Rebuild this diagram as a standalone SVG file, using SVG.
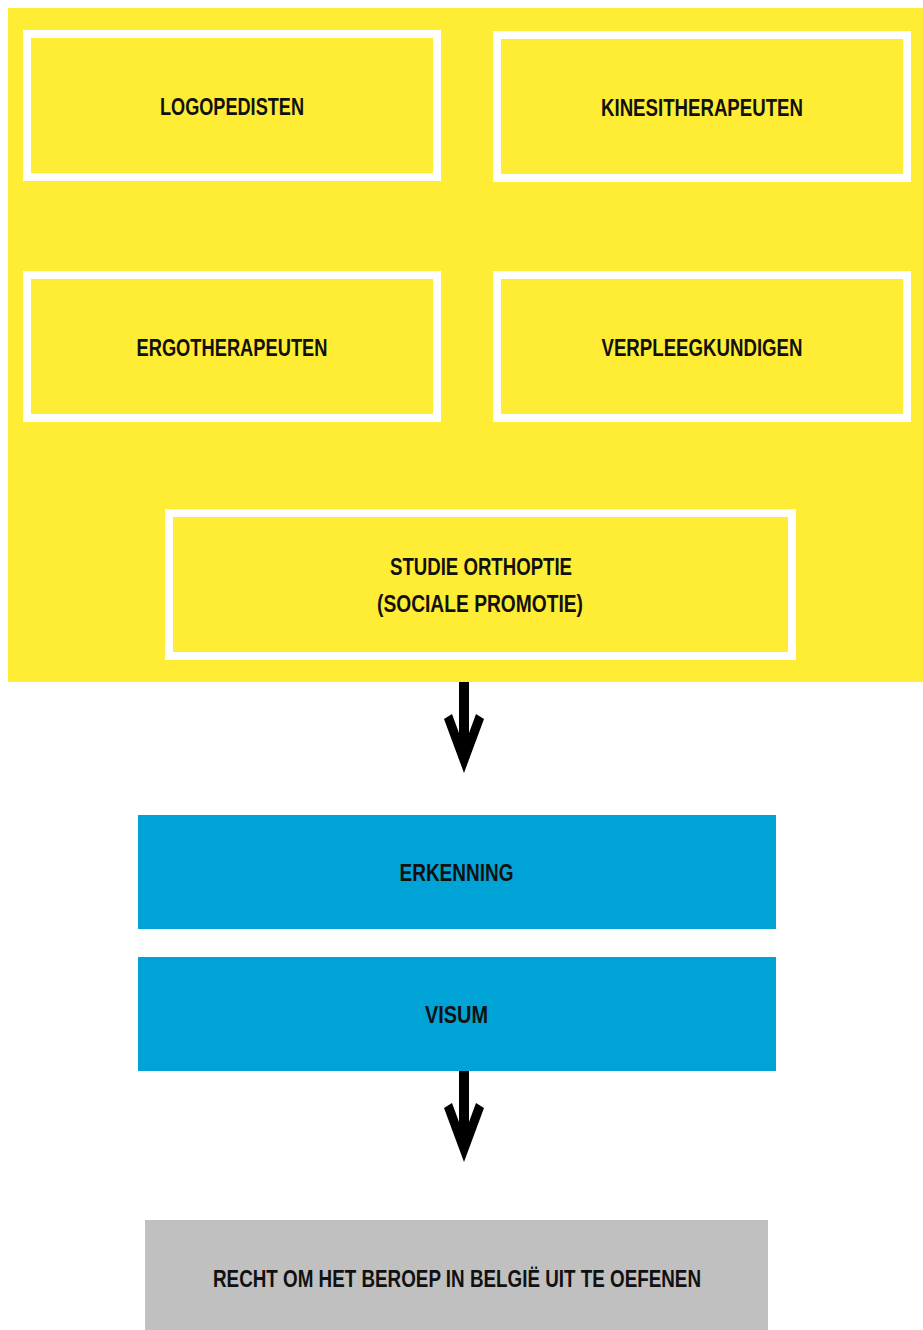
<svg xmlns="http://www.w3.org/2000/svg" width="923" height="1330" viewBox="0 0 923 1330">
<style>
.bg{fill:#ffffff}
.panel{fill:#ffed35}
.ybox{fill:#ffed35;stroke:#ffffff;stroke-width:8}
.bbox{fill:#00a3d6}
.gbox{fill:#c0c0c0}
.lbl{font-family:"Liberation Sans",Arial,sans-serif;font-weight:bold;font-size:23px;fill:#111111;text-anchor:middle}
.arrow{fill:#000000}
</style>
<rect class="bg" x="0" y="0" width="923" height="1330"/>
<rect id="panel" class="panel" x="8" y="8" width="915" height="674"/>
<g id="node-logopedisten">
<rect class="ybox" x="27" y="34" width="410" height="143"/>
<text class="lbl" x="232" y="115" textLength="144" lengthAdjust="spacingAndGlyphs">LOGOPEDISTEN</text>
</g>
<g id="node-kinesitherapeuten">
<rect class="ybox" x="497" y="35" width="410" height="143"/>
<text class="lbl" x="702" y="116" textLength="202" lengthAdjust="spacingAndGlyphs">KINESITHERAPEUTEN</text>
</g>
<g id="node-ergotherapeuten">
<rect class="ybox" x="27" y="275" width="410" height="143"/>
<text class="lbl" x="232" y="356" textLength="191" lengthAdjust="spacingAndGlyphs">ERGOTHERAPEUTEN</text>
</g>
<g id="node-verpleegkundigen">
<rect class="ybox" x="497" y="275" width="410" height="143"/>
<text class="lbl" x="702" y="356" textLength="201" lengthAdjust="spacingAndGlyphs">VERPLEEGKUNDIGEN</text>
</g>
<g id="node-orthoptie">
<rect class="ybox" x="169" y="513" width="623" height="143"/>
<text class="lbl" x="481" y="575" textLength="182" lengthAdjust="spacingAndGlyphs">STUDIE ORTHOPTIE</text>
<text class="lbl" x="480" y="612" textLength="206" lengthAdjust="spacingAndGlyphs">(SOCIALE PROMOTIE)</text>
</g>
<g id="node-erkenning">
<rect class="bbox" x="138" y="815" width="638" height="114"/>
<text class="lbl" x="456.5" y="881" textLength="114" lengthAdjust="spacingAndGlyphs">ERKENNING</text>
</g>
<g id="node-visum">
<rect class="bbox" x="138" y="957" width="638" height="114"/>
<text class="lbl" x="456.5" y="1023" textLength="63" lengthAdjust="spacingAndGlyphs">VISUM</text>
</g>
<g id="node-recht">
<rect class="gbox" x="145" y="1220" width="623" height="110"/>
<text class="lbl" x="457" y="1287" textLength="488" lengthAdjust="spacingAndGlyphs">RECHT OM HET BEROEP IN BELGIË UIT TE OEFENEN</text>
</g>
<g id="connectors">
<polygon class="arrow" points="459,682 469,682 469,733 476,714 484,719 464,773 444,719 452,714 459,733"/>
<polygon class="arrow" points="459,1071 469,1071 469,1122 476,1103 484,1108 464,1162 444,1108 452,1103 459,1122"/>
</g>
</svg>
